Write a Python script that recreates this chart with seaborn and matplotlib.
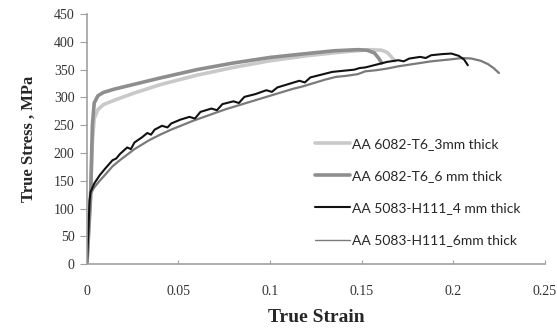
import matplotlib
matplotlib.use("Agg")
import matplotlib.pyplot as plt
import pandas as pd
import seaborn as sns

# curves (true strain, true stress in MPa)
strain_6082_3mm = [0, 0.002, 0.003, 0.004, 0.006, 0.009, 0.015, 0.025, 0.04, 0.06, 0.08, 0.10,
                   0.12, 0.14, 0.155, 0.161, 0.164, 0.166, 0.168]
stress_6082_3mm = [0, 120, 220, 262, 278, 287, 295, 307, 323, 340, 354, 366,
                   375, 382, 386, 385, 381, 374, 366]

strain_6082_6mm = [0, 0.002, 0.003, 0.004, 0.006, 0.009, 0.015, 0.025, 0.04, 0.06, 0.08, 0.10,
                   0.12, 0.135, 0.148, 0.153, 0.157, 0.159, 0.161]
stress_6082_6mm = [0, 120, 250, 290, 303, 309, 315, 323, 335, 350, 362, 372,
                   379, 384, 386, 385, 380, 372, 362]

strain_5083_4mm = [0, 0.0008, 0.0015, 0.002, 0.004, 0.007, 0.010, 0.014, 0.016, 0.018, 0.022,
                   0.024, 0.026, 0.030, 0.033, 0.035, 0.037, 0.041, 0.044, 0.046, 0.051, 0.056,
                   0.059, 0.062, 0.068, 0.071, 0.074, 0.080, 0.083, 0.086, 0.092, 0.098, 0.101,
                   0.104, 0.110, 0.116, 0.119, 0.122, 0.128, 0.134, 0.140, 0.146, 0.149, 0.152,
                   0.158, 0.164, 0.170, 0.173, 0.176, 0.182, 0.185, 0.188, 0.194, 0.199, 0.203,
                   0.206, 0.208]
stress_5083_4mm = [0, 60, 115, 130, 145, 160, 172, 187, 190, 198, 210,
                   207, 219, 228, 236, 233, 242, 249, 246, 253, 260, 265,
                   262, 274, 280, 277, 288, 293, 290, 301, 306, 313, 310,
                   318, 324, 330, 327, 336, 341, 346, 348, 350, 353, 354,
                   359, 364, 367, 365, 370, 373, 371, 376, 378, 379, 375,
                   368, 358]

strain_5083_6mm = [0, 0.0008, 0.0015, 0.002, 0.004, 0.007, 0.010, 0.014, 0.018, 0.022, 0.026,
                   0.030, 0.034, 0.040, 0.046, 0.052, 0.058, 0.064, 0.070, 0.076, 0.082, 0.088,
                   0.094, 0.100, 0.106, 0.112, 0.118, 0.124, 0.130, 0.136, 0.142, 0.148, 0.152,
                   0.158, 0.164, 0.170, 0.176, 0.182, 0.188, 0.194, 0.200, 0.205, 0.210, 0.215,
                   0.219, 0.222, 0.225]
stress_5083_6mm = [0, 55, 112, 126, 138, 150, 161, 176, 187, 197, 207,
                   215, 223, 233, 242, 250, 258, 265, 272, 279, 285, 291,
                   297, 303, 309, 315, 320, 326, 332, 337, 339, 342, 347,
                   349, 352, 356, 359, 362, 365, 367, 369, 371, 370, 366,
                   360, 353, 344]

labels = ["AA 6082-T6_3mm thick", "AA 6082-T6_6 mm thick",
          "AA 5083-H111_4 mm thick", "AA 5083-H111_6mm thick"]
x_ticks = [0, 0.05, 0.1, 0.15, 0.2, 0.25]
x_tick_labels = ["0", "0.05", "0.1", "0.15", "0.2", "0.25"]
y_ticks = [0, 50, 100, 150, 200, 250, 300, 350, 400, 450]

sns.set_style("white")
plt.rcParams["font.family"] = ["Liberation Serif", "DejaVu Serif"]

fig = plt.figure(figsize=(5.57, 3.36), dpi=100)
ax = fig.add_axes([0.156, 0.214, 0.822, 0.744])

series = [
    (strain_6082_3mm, stress_6082_3mm, dict(color="#c9c9c9", linewidth=2.6)),
    (strain_6082_6mm, stress_6082_6mm, dict(color="#8e8e8e", linewidth=2.6)),
    (strain_5083_6mm, stress_5083_6mm, dict(color="#7a7a7a", linewidth=1.6)),
    (strain_5083_4mm, stress_5083_4mm, dict(color="#111111", linewidth=1.5)),
]
for (xs, ys, style), lab in zip(series, [labels[0], labels[1], labels[3], labels[2]]):
    d = pd.DataFrame({"strain": xs, "stress": ys})
    sns.lineplot(data=d, x="strain", y="stress", sort=False, estimator=None,
                 ax=ax, label=lab, **style)

ax.set_xlim(0, 0.25)
ax.set_ylim(0, 450)
ax.set_xticks(x_ticks)
ax.set_xticklabels(x_tick_labels)
ax.set_yticks(y_ticks)
ax.tick_params(axis="x", direction="in", length=3, color="#a0a0a0", pad=15,
               labelsize=10, labelcolor="#333333")
ax.tick_params(axis="y", direction="out", length=5, color="#a0a0a0", pad=4,
               labelsize=10, labelcolor="#333333")
ax.tick_params(left=True, bottom=True)
for side in ["top", "right"]:
    ax.spines[side].set_visible(False)
for side in ["left", "bottom"]:
    ax.spines[side].set_color("#a0a0a0")
    ax.spines[side].set_linewidth(1.2)

ax.set_xlabel("True Strain", fontsize=14, fontweight="bold", labelpad=8)
ax.set_ylabel("True Stress , MPa", fontsize=12, fontweight="bold", labelpad=12)

handles, labs = ax.get_legend_handles_labels()
order = [0, 1, 3, 2]
leg = ax.legend([handles[i] for i in order], [labs[i] for i in order],
                loc="upper left", bbox_to_anchor=(315 / 557, 1 - 138 / 336),
                bbox_transform=fig.transFigure, frameon=False,
                prop={"family": "Lato", "size": 10}, handlelength=2.5,
                handletextpad=0.15, labelspacing=1.45, borderpad=0, borderaxespad=0)
leg.get_lines()[3].set_linewidth(1.0)

fig.savefig("out.png", dpi=100)
